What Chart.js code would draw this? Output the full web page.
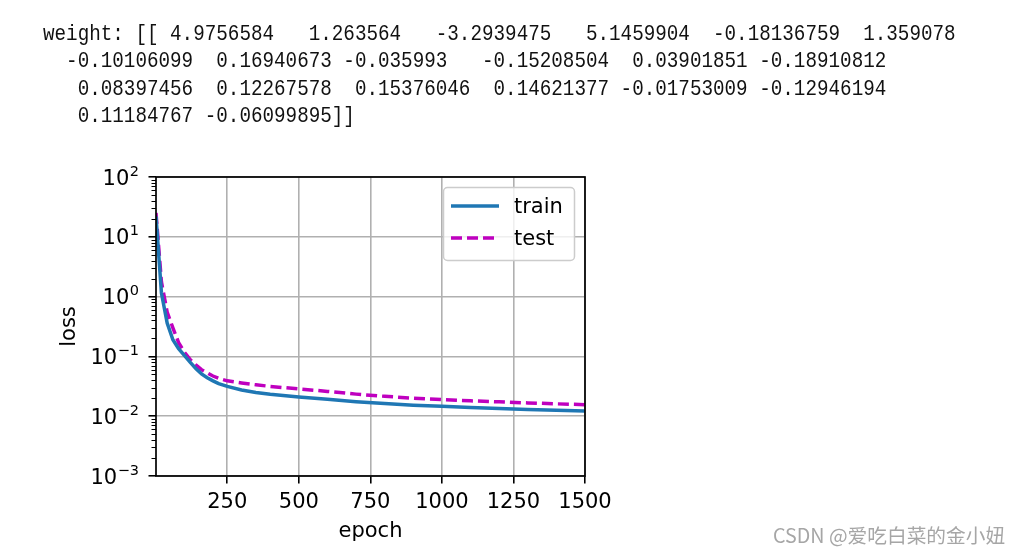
<!DOCTYPE html>
<html><head><meta charset="utf-8">
<script src="https://cdn.jsdelivr.net/npm/chart.js@4.4.0/dist/chart.umd.min.js"></script>
<style>
html,body{margin:0;padding:0;background:#fff;width:1020px;height:553px;overflow:hidden;}
canvas{position:absolute;left:0;top:0;}
#out{position:absolute;left:43px;top:21px;font-family:"Liberation Mono",monospace;font-size:22px;line-height:27.3px;white-space:pre;color:#111;transform:scaleX(0.875);transform-origin:0 0;}
#wm{position:absolute;left:773px;top:522px;font-family:"Noto Sans CJK SC",sans-serif;font-size:19.7px;line-height:26px;color:#a6a6a6;white-space:nowrap;}
</style></head><body>
<canvas id="c" width="1020" height="553"></canvas>
<div id="out"></div>
<div id="wm">CSDN @爱吃白菜的金小妞</div>
<script>
// ---- printed text ----
const weightLines = [
  "weight: [[ 4.9756584   1.263564   -3.2939475   5.1459904  -0.18136759  1.359078",
  "  -0.10106099  0.16940673 -0.035993   -0.15208504  0.03901851 -0.18910812",
  "   0.08397456  0.12267578  0.15376046  0.14621377 -0.01753009 -0.12946194",
  "   0.11184767 -0.06099895]]"
];
// ---- chart data ----
const epochs    = [1, 20, 40, 60, 80, 100, 120, 140, 160, 180, 200, 220, 250, 300, 350, 400, 500, 600, 700, 800, 900, 1000, 1100, 1200, 1300, 1400, 1500];
const trainLoss = [22, 1.15, 0.36, 0.19, 0.135, 0.104, 0.080, 0.063, 0.051, 0.044, 0.039, 0.035, 0.0315, 0.0275, 0.025, 0.0232, 0.0210, 0.0192, 0.0175, 0.0163, 0.0153, 0.0146, 0.0140, 0.0135, 0.0130, 0.0126, 0.0122];
const testLoss  = [25, 1.76, 0.55, 0.30, 0.170, 0.118, 0.089, 0.072, 0.060, 0.053, 0.047, 0.043, 0.039, 0.036, 0.0335, 0.0315, 0.0286, 0.0260, 0.0234, 0.0215, 0.0200, 0.0189, 0.0181, 0.0174, 0.0167, 0.0161, 0.0156];
const seriesNames = ["train", "test"];
const xTickValues = [250, 500, 750, 1000, 1250, 1500];
const yDecades = [-3, -2, -1, 0, 1, 2];
const xLabel = "epoch";
const yLabel = "loss";

document.getElementById('out').textContent = weightLines.join("\n");

const FONT = "'DejaVu Sans', sans-serif";
const FS = 21;

const overlay = {
  id: 'overlay',
  afterDraw(chart) {
    const ctx = chart.ctx;
    const a = chart.chartArea;
    const ys = chart.scales.y;
    ctx.save();
    // frame (spines)
    ctx.strokeStyle = '#000';
    ctx.lineWidth = 1.7;
    ctx.strokeRect(a.left, a.top, a.right - a.left, a.bottom - a.top);
    // minor ticks on log axis
    ctx.lineWidth = 1.2;
    ctx.beginPath();
    for (let i = 0; i < yDecades.length - 1; i++) {
      for (let m = 2; m <= 9; m++) {
        const py = Math.round(ys.getPixelForValue(m * Math.pow(10, yDecades[i]))) + 0.5;
        ctx.moveTo(a.left - 4.5, py);
        ctx.lineTo(a.left, py);
      }
    }
    ctx.stroke();
    // y tick labels 10^k with superscripts
    ctx.fillStyle = '#000';
    ctx.textBaseline = 'alphabetic';
    ctx.textAlign = 'left';
    yDecades.forEach(k => {
      const py = ys.getPixelForValue(Math.pow(10, k));
      const ex = String(k).replace('-', '\u2212');
      ctx.font = FS + 'px ' + FONT;
      const w10 = ctx.measureText('10').width;
      ctx.font = '14.5px ' + FONT;
      const we = ctx.measureText(ex).width;
      const x0 = a.left - 17 - we - w10 - 0.5;
      ctx.font = FS + 'px ' + FONT;
      ctx.fillText('10', x0, py + 7.5);
      ctx.font = '14.5px ' + FONT;
      ctx.fillText(ex, x0 + w10 + 0.5, py - 1.5);
    });
    // legend
    const bx = a.right - 141.5, by = a.top + 10.5, bw = 131, bh = 73;
    ctx.beginPath();
    ctx.roundRect(bx, by, bw, bh, 4);
    ctx.fillStyle = 'rgba(255,255,255,0.8)';
    ctx.fill();
    ctx.strokeStyle = '#cccccc';
    ctx.lineWidth = 1.5;
    ctx.stroke();
    chart.data.datasets.forEach((ds, i) => {
      const ly = by + 18.5 + i * 32;
      ctx.beginPath();
      ctx.strokeStyle = ds.borderColor;
      ctx.lineWidth = ds.borderWidth;
      ctx.setLineDash(ds.borderDash || []);
      ctx.moveTo(bx + 7.5, ly);
      ctx.lineTo(bx + 55.5, ly);
      ctx.stroke();
      ctx.setLineDash([]);
      ctx.fillStyle = '#000';
      ctx.font = FS + 'px ' + FONT;
      ctx.textBaseline = 'middle';
      ctx.fillText(ds.label, bx + 70.5, ly + 1.5);
    });
    ctx.restore();
  }
};

new Chart(document.getElementById('c'), {
  type: 'line',
  data: {
    datasets: [
      { label: seriesNames[0], data: epochs.map((e, i) => ({x: e, y: trainLoss[i]})),
        borderColor: '#1f77b4', borderWidth: 3.5, pointRadius: 0, tension: 0, fill: false },
      { label: seriesNames[1], data: epochs.map((e, i) => ({x: e, y: testLoss[i]})),
        borderColor: '#bf00bf', borderWidth: 3.5, borderDash: [11, 5], pointRadius: 0, tension: 0, fill: false }
    ]
  },
  options: {
    responsive: false,
    animation: false,
    devicePixelRatio: 1,
    layout: { padding: { left: 0, top: 177, right: 435, bottom: 0 } },
    plugins: { legend: { display: false }, tooltip: { enabled: false } },
    scales: {
      x: {
        type: 'linear', min: 1, max: 1500,
        afterBuildTicks: s => { s.ticks = xTickValues.map(v => ({value: v})); },
        afterFit: s => { s.height = 77; },
        grid: { color: '#b0b0b0', lineWidth: 1.6, tickColor: '#000', tickWidth: 1.6, tickLength: 7.5 },
        border: { display: false },
        ticks: { font: { family: FONT, size: FS }, color: '#000', padding: 6, maxRotation: 0, autoSkip: false,
                 callback: v => String(v) },
        title: { display: true, text: xLabel, font: { family: FONT, size: FS }, color: '#000', padding: { top: 0, bottom: 8.4 } }
      },
      y: {
        type: 'logarithmic', min: 1e-3, max: 1e2,
        afterBuildTicks: s => { s.ticks = yDecades.map(k => ({value: Math.pow(10, k), major: true})); },
        afterFit: s => { s.width = 156; },
        grid: { color: '#b0b0b0', lineWidth: 1.6, tickColor: '#000', tickWidth: 1.6, tickLength: 7.5 },
        border: { display: false },
        ticks: { display: false },
        title: { display: true, text: yLabel, font: { family: FONT, size: FS }, color: '#000', padding: { top: 57.4, bottom: 0 } }
      }
    }
  },
  plugins: [overlay]
});
</script>
</body></html>
